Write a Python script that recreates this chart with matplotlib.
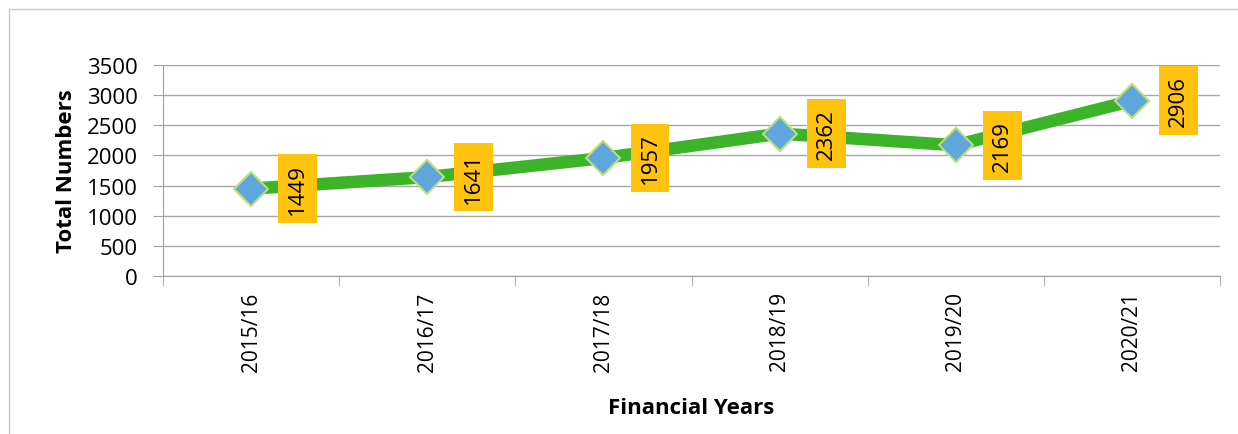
import matplotlib.pyplot as plt
from matplotlib.patches import Rectangle
import numpy as np

years = ["2015/16", "2016/17", "2017/18", "2018/19", "2019/20", "2020/21"]
totals = [1449, 1641, 1957, 2362, 2169, 2906]

plt.rcParams.update({"font.family": ["Open Sans", "DejaVu Sans"], "font.size": 14})

fig = plt.figure(figsize=(12.38, 4.35), dpi=100)
ax = fig.add_axes([0.1317, 0.3632, 0.8538, 0.4851])

x = np.arange(len(years))
ax.plot(x, totals, color="#3db32a", linewidth=9, solid_capstyle="butt", zorder=3)
ax.plot(x, totals, linestyle="none", marker="D", markersize=17,
        markerfacecolor="#5fa6dc", markeredgecolor="#b8e07a", markeredgewidth=1.5, zorder=4)

for xi, v in zip(x, totals):
    ax.annotate(str(v), (xi, v), xytext=(33.5, 0), textcoords="offset points",
                rotation=90, ha="center", va="center", fontsize=16, zorder=5,
                bbox=dict(boxstyle="square,pad=0.4", facecolor="#ffc20e", edgecolor="none"))

ax.set_xlim(-0.5, len(years) - 0.5)
ax.set_ylim(0, 3500)
ax.set_yticks(np.arange(0, 3501, 500))
ax.set_xticks(x)
ax.set_xticklabels(years, rotation=90)
ax.set_xticks(np.arange(-0.5, len(years)), minor=True)
ax.tick_params(axis="x", which="major", length=0, pad=11)
ax.tick_params(axis="x", which="minor", length=7, color="#a0a0a0")
ax.tick_params(axis="y", length=7, color="#a0a0a0", labelsize=16, pad=11)
ax.tick_params(axis="x", labelsize=15)
ax.yaxis.grid(True, color="#a8a8a8", linewidth=1)
ax.set_axisbelow(True)
for s in ("top", "right"):
    ax.spines[s].set_visible(False)
for s in ("left", "bottom"):
    ax.spines[s].set_color("#a0a0a0")

ax.set_ylabel("Total Numbers", fontsize=16, fontweight="bold", labelpad=7)
ax.set_xlabel("Financial Years", fontsize=16, fontweight="bold", labelpad=19)

fig.patches.append(Rectangle((0.007, -0.02), 1.2, 0.997, transform=fig.transFigure,
                             fill=False, edgecolor="#c8c8c8", linewidth=1))

fig.savefig("out.png", dpi=100)
